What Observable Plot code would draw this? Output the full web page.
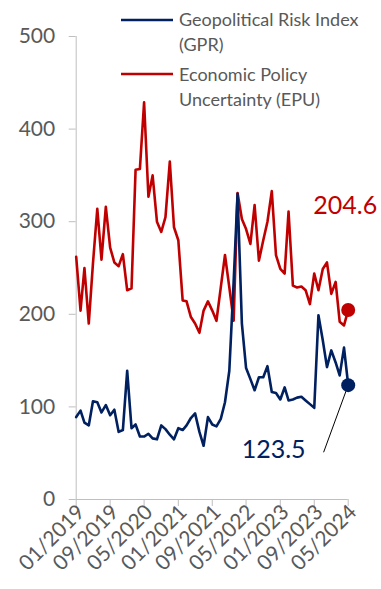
<!DOCTYPE html>
<html>
<head>
<meta charset="utf-8">
<script src="https://cdn.jsdelivr.net/npm/d3@7"></script>
<script src="https://cdn.jsdelivr.net/npm/@observablehq/plot@0.6"></script>
<style>
  body { margin: 0; background: #fff; }
  #chart { width: 381px; height: 589px; }
  #chart svg { font-family: Lato, "Noto Sans", sans-serif; }
</style>
</head>
<body>
<div id="chart"></div>
<script>
// Monthly index readings, January 2019 through May 2024
const startMonth = "2019-01";
const endMonth = "2024-05";

const gprValues = [
  89, 96, 83, 80, 106, 105, 94, 102, 91, 97, 73, 75,
  139, 77, 81, 68, 68, 71, 66, 65, 80, 76, 70, 65,
  77, 75, 80, 88, 93, 73, 58, 89, 81, 79, 87, 105,
  139, 235, 330, 190, 142, 130, 118, 132, 132, 144, 116, 115,
  108, 121, 107, 108, 110, 111, 107, 103, 99, 199, 172, 143,
  161, 148, 134, 164, 123.5
];

const epuValues = [
  262, 204, 250, 190, 255, 314, 259, 316, 272, 256, 252, 265,
  226, 228, 356, 357, 429, 327, 350, 300, 289, 305, 365, 294,
  280, 215, 214, 197, 190, 180, 204, 214, 204, 193, 229, 264,
  229, 193, 331, 303, 292, 276, 318, 258, 280, 300, 333, 264,
  249, 244, 311, 231, 229, 230, 226, 211, 244, 226, 249, 256,
  222, 235, 192, 188, 204.6
];

const seriesColors = ["#002060", "#c00000"];
const legendLines = [["Geopolitical Risk Index", "(GPR)"], ["Economic Policy", "Uncertainty (EPU)"]];

const yTicks = [0, 100, 200, 300, 400, 500];
const xTickMonths = ["2019-01", "2019-09", "2020-05", "2021-01", "2021-09", "2022-05", "2023-01", "2023-09", "2024-05"];

// end point of the leader line for the GPR value label
const gprLeaderEnd = {month: "2023-11-07", value: 51};

const parseMonth = d3.utcParse("%Y-%m");
const parseDay = d3.utcParse("%Y-%m-%d");
const months = d3.utcMonth.range(parseMonth(startMonth), d3.utcMonth.offset(parseMonth(endMonth), 1));

const gpr = months.map((date, i) => ({date, value: gprValues[i]}));
const epu = months.map((date, i) => ({date, value: epuValues[i]}));
const gprLast = gpr[gpr.length - 1];
const epuLast = epu[epu.length - 1];
const leaderEnd = {date: parseDay(gprLeaderEnd.month), value: gprLeaderEnd.value};

const textGray = "#595959";
const axisGray = "#bfbfbf";
const fmt = d3.format(".1f");

const plot = Plot.plot({
  width: 381,
  height: 589,
  marginLeft: 75.7,
  marginRight: 33.3,
  marginTop: 36,
  marginBottom: 90,
  style: {fontFamily: 'Lato, "Noto Sans", sans-serif', background: "#fff"},
  x: {type: "utc", domain: [months[0], months[months.length - 1]]},
  y: {domain: [0, 500]},
  marks: [
    Plot.ruleX([months[0]], {y1: 0, y2: 500, stroke: axisGray, strokeWidth: 1}),
    Plot.ruleY([0], {stroke: axisGray, strokeWidth: 1}),
    Plot.axisY({
      ticks: yTicks, tickSize: 7, tickPadding: 14, stroke: axisGray,
      fill: textGray, fontSize: 21, label: null
    }),
    Plot.axisX({
      ticks: xTickMonths.map(parseMonth), tickSize: 7, stroke: axisGray, label: null,
      text: null
    }),
    Plot.axisX({
      ticks: xTickMonths.map(parseMonth), tickFormat: d3.utcFormat("%m/%Y"),
      tickSize: 0, tickPadding: 12, tickRotate: -45,
      fill: textGray, fontSize: 21, label: null, dx: 5, dy: -3
    }),
    Plot.line(epu, {x: "date", y: "value", stroke: seriesColors[1], strokeWidth: 2.6}),
    Plot.line(gpr, {x: "date", y: "value", stroke: seriesColors[0], strokeWidth: 2.6}),
    Plot.link([leaderEnd], {x1: () => gprLast.date, y1: () => gprLast.value, x2: "date", y2: "value", stroke: "#000", strokeWidth: 1}),
    Plot.dot([epuLast], {x: "date", y: "value", r: 7, fill: seriesColors[1]}),
    Plot.dot([gprLast], {x: "date", y: "value", r: 7, fill: seriesColors[0]}),
    Plot.text([epuLast], {x: "date", y: "value", text: d => fmt(d.value), fill: seriesColors[1],
      fontSize: 25, textAnchor: "end", dx: 29, dy: -104}),
    Plot.text([leaderEnd], {x: "date", y: "value", text: () => fmt(gprLast.value), fill: seriesColors[0],
      fontSize: 25, textAnchor: "end", dx: -18, dy: -2})
  ]
});

document.getElementById("chart").append(plot);

// Legend, drawn inside the chart area at the top
const svg = d3.select(plot);
const legend = svg.append("g").attr("font-size", 18).attr("fill", textGray).attr("text-anchor", "start");
const itemTops = [26, 81];
const itemLineY = [20, 74];
legendLines.forEach((lines, k) => {
  legend.append("line")
    .attr("x1", 121).attr("x2", 173)
    .attr("y1", itemLineY[k]).attr("y2", itemLineY[k])
    .attr("stroke", seriesColors[k]).attr("stroke-width", 2.6);
  lines.forEach((t, j) => {
    legend.append("text")
      .attr("x", 179).attr("y", itemTops[k] + j * 24.5)
      .text(t);
  });
});
</script>
</body>
</html>
